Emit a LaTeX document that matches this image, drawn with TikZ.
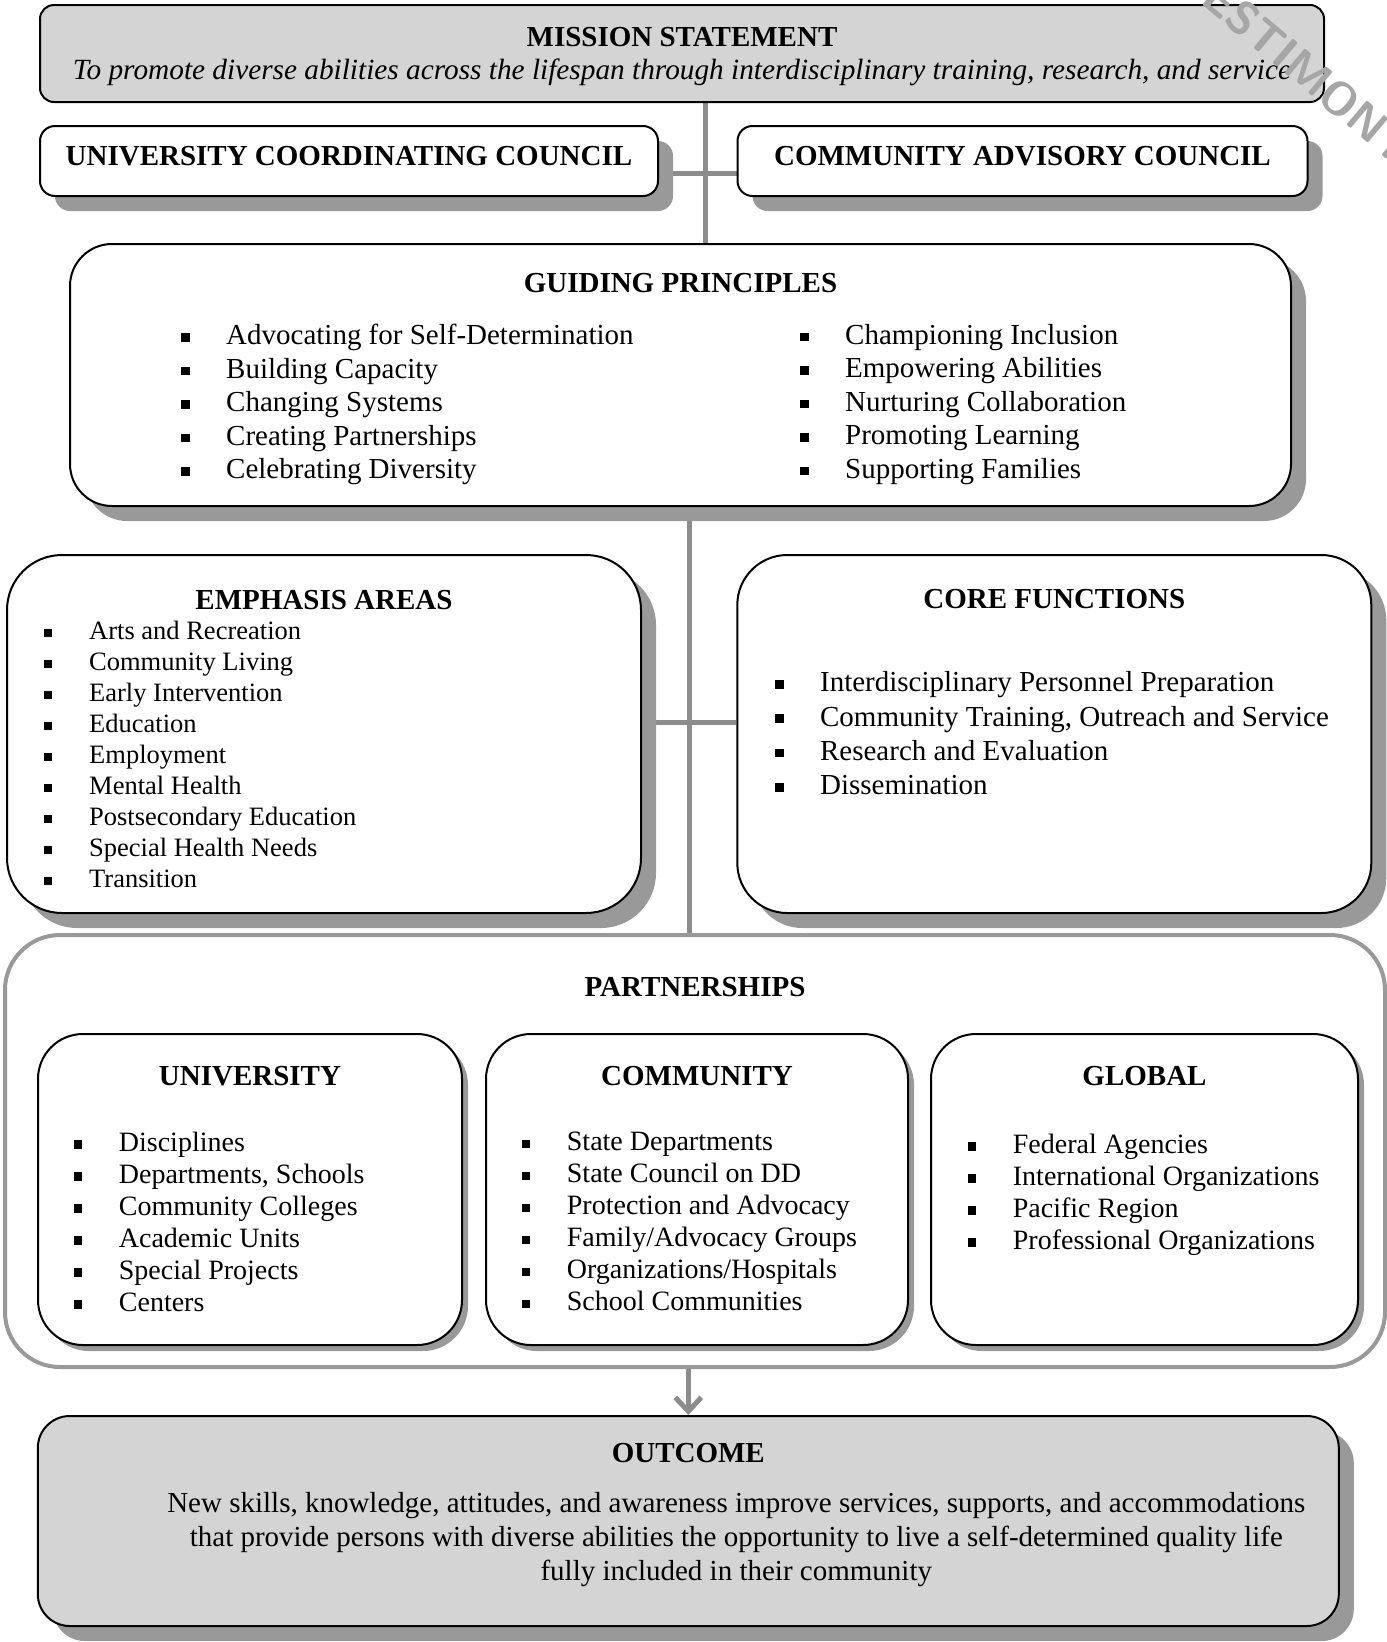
\documentclass[tikz,border=0pt]{standalone}
\usepackage{fontspec}
\setmainfont{Liberation Serif}
\usetikzlibrary{positioning, shadows, arrows.meta, backgrounds}

\newcommand{\blt}{\makebox[45pt][l]{\rule[0.1em]{0.3em}{0.3em}}}

\begin{document}
\begin{tikzpicture}[x=1pt, y=-1pt,
  box/.style={draw, line width=2pt, fill=white, inner sep=0pt},
  shade/.style={drop shadow={shadow xshift=15pt, shadow yshift=-15pt, fill=black!40, opacity=1}},
  smallshade/.style={drop shadow={shadow xshift=6pt, shadow yshift=-6pt, fill=black!40, opacity=1}},
  subbox/.style={box, smallshade, rounded corners=45pt, minimum height=311pt},
  ttl/.style={font=\fontsize{29}{33}\selectfont\bfseries, inner sep=0pt},
  txt/.style={font=\fontsize{29}{33.5}\selectfont, inner sep=0pt, align=left},
  link/.style={draw=black!45, line width=5pt}]

  \useasboundingbox (0,0) rectangle (1387,1642);

  % Define boxes
  \node[box, fill=black!17, rounded corners=14pt, minimum width=1284pt, minimum height=97pt] (mission) at (682,53.5) {};
  \node[box, shade, rounded corners=15pt, minimum width=618pt, minimum height=70pt] (ucc) at (349,161) {};
  \node[box, shade, rounded corners=15pt, minimum width=570pt, minimum height=70pt] (cac) at (1022.5,161) {};
  \node[box, shade, rounded corners=42pt, minimum width=1221pt, minimum height=262pt] (gp) at (680.5,375) {};
  \node[box, shade, rounded corners=55pt, minimum width=634pt, minimum height=358pt] (emph) at (324,734) {};
  \node[box, shade, rounded corners=50pt, minimum width=634pt, minimum height=358pt] (core) at (1054.3,734) {};
  \node[draw=black!40, line width=4pt, rounded corners=55pt, inner sep=0pt, minimum width=1380pt, minimum height=432pt] (part) at (695,1151) {};
  \node[subbox, minimum width=424pt] (univ) at (250,1189.5) {};
  \node[subbox, minimum width=422pt] (comm) at (697,1189.5) {};
  \node[subbox, minimum width=427pt] (glob) at (1144.5,1189.5) {};
  \node[box, shade, fill=black!17, rounded corners=32pt, minimum width=1301pt, minimum height=210pt] (outcome) at (688.3,1521) {};

  % Mission and councils
  \node[ttl, below=23pt of mission.north] (missiont) {MISSION STATEMENT};
  \node[txt, font=\fontsize{29.3}{34}\selectfont\itshape, below=55pt of mission.north] (missionl) {To promote diverse abilities across the lifespan through interdisciplinary training, research, and service};
  \node[ttl, below=21pt of ucc.north] (ucct) {UNIVERSITY COORDINATING COUNCIL};
  \node[ttl, below=21pt of cac.north] (cact) {COMMUNITY ADVISORY COUNCIL};

  % Guiding principles
  \node[ttl, below=30.5pt of gp.north] (gpt) {GUIDING PRINCIPLES};
  \node[txt, below right=81pt and 112pt of gp.north west] (gpleft) {\blt Advocating for Self-Determination\\ \blt Building Capacity\\ \blt Changing Systems\\ \blt Creating Partnerships\\ \blt Celebrating Diversity};
  \node[txt, below right=81pt and 731pt of gp.north west] (gpright) {\blt Championing Inclusion\\ \blt Empowering Abilities\\ \blt Nurturing Collaboration\\ \blt Promoting Learning\\ \blt Supporting Families};

  % Emphasis areas and core functions
  \node[ttl, below=35.6pt of emph.north] (empht) {EMPHASIS AREAS};
  \node[txt, font=\fontsize{26.5}{31}\selectfont, below right=67pt and 38pt of emph.north west] (emphl) {\blt Arts and Recreation\\ \blt Community Living\\ \blt Early Intervention\\ \blt Education\\ \blt Employment\\ \blt Mental Health\\ \blt Postsecondary Education\\ \blt Special Health Needs\\ \blt Transition};
  \node[ttl, below=35pt of core.north] (coret) {CORE FUNCTIONS};
  \node[txt, font=\fontsize{29}{34.2}\selectfont, below right=117.5pt and 38.6pt of core.north west] (corel) {\blt Interdisciplinary Personnel Preparation\\ \blt Community Training, Outreach and Service\\ \blt Research and Evaluation\\ \blt Dissemination};

  % Partnerships
  \node[ttl, below=44.5pt of part.north] (partt) {PARTNERSHIPS};
  \node[ttl, below=33pt of univ.north] (univt) {UNIVERSITY};
  \node[txt, font=\fontsize{28}{32}\selectfont, below right=99pt and 36.7pt of univ.north west] (univl) {\blt Disciplines\\ \blt Departments, Schools\\ \blt Community Colleges\\ \blt Academic Units\\ \blt Special Projects\\ \blt Centers};
  \node[ttl, below=33pt of comm.north] (commt) {COMMUNITY};
  \node[txt, font=\fontsize{28}{32}\selectfont, below right=99pt and 36.7pt of comm.north west] (comml) {\blt State Departments\\ \blt State Council on DD\\ \blt Protection and Advocacy\\ \blt Family/Advocacy Groups\\ \blt Organizations/Hospitals\\ \blt School Communities};
  \node[ttl, below=33pt of glob.north] (globt) {GLOBAL};
  \node[txt, font=\fontsize{28}{32}\selectfont, below right=101pt and 37.7pt of glob.north west] (globl) {\blt Federal Agencies\\ \blt International Organizations\\ \blt Pacific Region\\ \blt Professional Organizations};

  % Outcome
  \node[ttl, below=28.5pt of outcome.north] (outcomet) {OUTCOME};
  \node[txt, align=center, font=\fontsize{29}{34}\selectfont, below=77.5pt of outcome.north, xshift=48pt] (outcomel) {New skills, knowledge, attitudes, and awareness improve services, supports, and accommodations\\ that provide persons with diverse abilities the opportunity to live a self-determined quality life\\ fully included in their community};

  % Stamp
  \node[rotate=-40, text=black!35, font=\fontsize{46}{46}\sffamily\bfseries] (stamp) at (1296,62) {TESTIMONY};

  % Define connectors
  \coordinate (hub) at (705,173);
  \coordinate (low) at (689,722);
  \begin{scope}[on background layer]
    \draw[link] (mission.south -| hub) -- (gp.north -| hub);
    \draw[link] (ucc.east |- hub) -- (cac.west |- hub);
    \draw[link] (gp.south -| low) -- (part.north -| low);
    \draw[link] (emph.east |- low) -- (core.west |- low);
    \draw[link, -{Straight Barb[length=14pt, width=26pt]}] (part.south -| outcome.north) -- (outcome.north);
  \end{scope}

\end{tikzpicture}
\end{document}
